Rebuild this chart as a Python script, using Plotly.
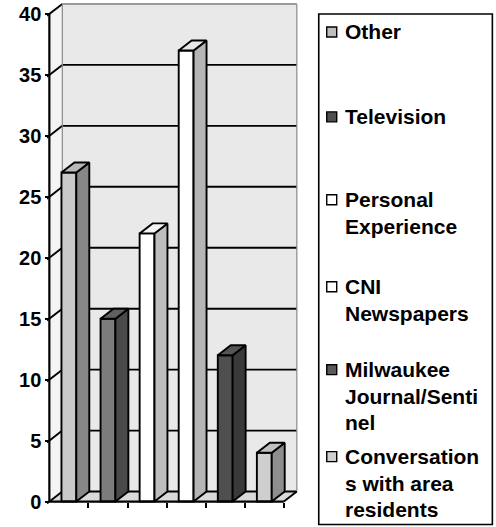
import plotly.graph_objects as go

# ---------------- data ----------------
categories = ["Other", "Television", "Personal Experience", "CNI Newspapers",
              "Milwaukee Journal/Sentinel", "Conversations with area residents"]
legend_lines = [["Other"], ["Television"], ["Personal", "Experience"],
                ["CNI", "Newspapers"], ["Milwaukee", "Journal/Senti", "nel"],
                ["Conversation", "s with area", "residents"]]
values = [27, 15, 22, 37, 12, 4]
y_ticks = [0, 5, 10, 15, 20, 25, 30, 35, 40]

front_colors = ["#c9c9c9", "#7c7c7c", "#ffffff", "#ffffff", "#4f4f4f", "#cfcfcf"]
side_colors = ["#878787", "#4a4a4a", "#bdbdbd", "#b5b5b5", "#3a3a3a", "#8e8e8e"]
top_colors = ["#b8b8b8", "#606060", "#f4f4f4", "#e8e8e8", "#555555", "#c0c0c0"]
swatch_colors = ["#bdbdbd", "#4f4f4f", "#ffffff", "#ffffff", "#5a5a5a", "#d0d0d0"]

# ---------------- geometry ----------------
W, H = 496, 527
X0PX, UX = 49.0, 39.17     # pixel of x=-0.5, px per category
Y0PX, UY = 502.0, 12.2     # pixel of y=0, px per unit
DX, DY = 0.332, 0.82       # 3D depth in data units
BW = 0.38                  # bar front width
xr = [-0.56, 5.5 + DX + 0.03]
yr = [-0.2, 40 + DY + 0.08]

ml = X0PX + (xr[0] + 0.5) * UX
pw = (xr[1] - xr[0]) * UX
mr = W - ml - pw
mt = Y0PX - yr[1] * UY
plot_bottom = Y0PX - yr[0] * UY
ph = plot_bottom - mt
mb = H - plot_bottom


def px_x(x):
    return (x - ml) / pw


def px_y(y):
    return (plot_bottom - y) / ph


FONT = "Liberation Sans, Arial, sans-serif"
LW = 1.9
x_idx = list(range(len(categories)))

fig = go.Figure()

# front faces of the bars
fig.add_trace(go.Bar(
    x=x_idx, y=values, width=BW, base=0,
    marker=dict(color=front_colors, line=dict(color="black", width=LW)),
    hoverinfo="skip", showlegend=False))

# side and top faces
for i, v in enumerate(values):
    xr_ = i + BW / 2
    xl_ = i - BW / 2
    fig.add_trace(go.Scatter(
        x=[xr_, xr_ + DX, xr_ + DX, xr_, xr_],
        y=[0, DY, v + DY, v, 0],
        fill="toself", fillcolor=side_colors[i], mode="lines",
        line=dict(color="black", width=LW), hoverinfo="skip", showlegend=False))
    fig.add_trace(go.Scatter(
        x=[xl_, xr_, xr_ + DX, xl_ + DX, xl_],
        y=[v, v, v + DY, v + DY, v],
        fill="toself", fillcolor=top_colors[i], mode="lines",
        line=dict(color="black", width=LW), hoverinfo="skip", showlegend=False))

shapes = []
L = -0.5
R = 5.5
# back wall
shapes.append(dict(type="rect", xref="x", yref="y", x0=L + DX, x1=R + DX, y0=DY, y1=40 + DY,
                   fillcolor="#e9e9e9", line=dict(width=0), layer="below"))
# left wall
shapes.append(dict(type="path", xref="x", yref="y",
                   path=f"M {L},0 L {L},40 L {L+DX},{40+DY} L {L+DX},{DY} Z",
                   fillcolor="#f4f4f4", line=dict(width=0), layer="below"))
# floor
shapes.append(dict(type="path", xref="x", yref="y",
                   path=f"M {L},0 L {R},0 L {R+DX},{DY} L {L+DX},{DY} Z",
                   fillcolor="#dadada", line=dict(width=0), layer="below"))
# gridlines on back wall and left wall
for t in y_ticks:
    col = "black" if t < 40 else "#9a9a9a"
    shapes.append(dict(type="line", xref="x", yref="y", x0=L + DX, x1=R + DX,
                       y0=t + DY, y1=t + DY, line=dict(color=col, width=LW), layer="below"))
    shapes.append(dict(type="line", xref="x", yref="y", x0=L - 0.06, x1=L + DX,
                       y0=t - 0.15, y1=t + DY, line=dict(color="black", width=LW), layer="below"))
# wall edges
shapes.append(dict(type="line", xref="x", yref="y", x0=L + DX, x1=L + DX, y0=DY, y1=40 + DY,
                   line=dict(color="#8a8a8a", width=1.2), layer="below"))
shapes.append(dict(type="line", xref="x", yref="y", x0=R + DX, x1=R + DX, y0=DY, y1=40 + DY,
                   line=dict(color="#8a8a8a", width=1.2), layer="below"))
shapes.append(dict(type="line", xref="x", yref="y", x0=R, x1=R + DX, y0=0, y1=DY,
                   line=dict(color="black", width=LW), layer="below"))
# axes lines
shapes.append(dict(type="line", xref="x", yref="y", x0=L, x1=L, y0=0, y1=40,
                   line=dict(color="black", width=2.2), layer="above"))
shapes.append(dict(type="line", xref="x", yref="y", x0=L, x1=R, y0=0, y1=0,
                   line=dict(color="black", width=2.2), layer="above"))

# legend box
shapes.append(dict(type="rect", xref="paper", yref="paper",
                   x0=px_x(319), x1=px_x(493), y0=px_y(525), y1=px_y(14),
                   fillcolor="white", line=dict(color="black", width=1.6), layer="below"))

annotations = []
entry_y = [32, 117, 200, 287, 370, 457]
LINE_H = 26.5
for k, lines in enumerate(legend_lines):
    y0 = entry_y[k]
    shapes.append(dict(type="rect", xref="paper", yref="paper",
                       x0=px_x(327), x1=px_x(337), y0=px_y(y0 + 5), y1=px_y(y0 - 5),
                       fillcolor=swatch_colors[k], line=dict(color="black", width=1.4)))
    for j, txt in enumerate(lines):
        annotations.append(dict(
            xref="paper", yref="paper", x=px_x(343), y=px_y(y0 + j * LINE_H),
            xanchor="left", yanchor="middle", showarrow=False, text=txt,
            font=dict(family=FONT, size=21, color="black", weight="bold")))

fig.update_layout(
    width=W, height=H, autosize=False,
    margin=dict(l=ml, r=mr, t=mt, b=mb, pad=0),
    paper_bgcolor="white", plot_bgcolor="white",
    shapes=shapes, annotations=annotations, showlegend=False,
    xaxis=dict(range=xr, tickvals=[0.5, 1.5, 2.5, 3.5, 4.5, 5.5], ticktext=[""] * 6,
               ticks="outside", ticklen=5, tickwidth=1.8, tickcolor="black",
               showgrid=False, zeroline=False, showline=False, fixedrange=True,
               anchor="free", position=px_y(Y0PX)),
    yaxis=dict(range=yr, tickvals=y_ticks, ticks="outside", ticklen=4, tickwidth=1.8,
               tickcolor="black", showgrid=False, zeroline=False, showline=False,
               tickfont=dict(family=FONT, size=20, color="black", weight="bold"),
               anchor="free", position=px_x(X0PX), fixedrange=True),
)

fig.write_html("out.html", config={"displayModeBar": False},
               post_script="document.body.style.margin='0';document.body.style.padding='0';")
